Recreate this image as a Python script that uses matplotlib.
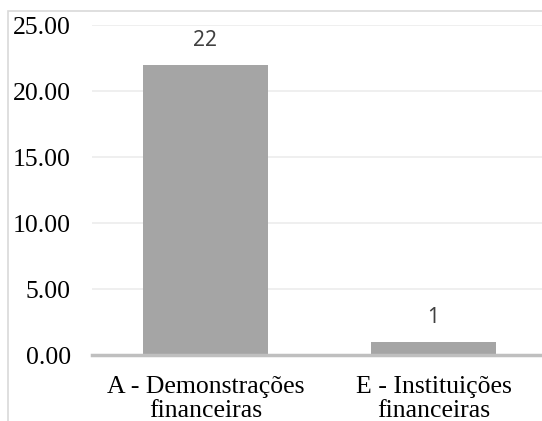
import numpy as np
import matplotlib.pyplot as plt
from matplotlib.patches import Rectangle

categorias = ["A - Demonstrações\nfinanceiras", "E - Instituições\nfinanceiras"]
valores = [22, 1]
yticks = [0, 5, 10, 15, 20, 25]

fig = plt.figure(figsize=(5.42, 4.21), dpi=100)

# moldura cinza clara do gráfico
fig.patches.append(Rectangle((8 / 542, -0.1), 1.0, (421 - 11) / 421 + 0.1,
                             transform=fig.transFigure, fill=False,
                             edgecolor="#d9d9d9", linewidth=1.2, zorder=0))

ax = fig.add_axes([91.5 / 542, (421 - 355) / 421, 456 / 542, 330 / 421])

x = np.arange(len(categorias))
barras = ax.bar(x, valores, width=0.55, color="#a5a5a5", zorder=2)

for xi, v in zip(x, valores):
    ax.annotate(str(v), (xi, v), xytext=(0, 10), textcoords="offset points",
                ha="center", va="bottom", fontsize=15, color="#404040",
                family="Noto Sans")

ax.set_xlim(-0.5, 1.5)
ax.set_ylim(0, 25)
ax.set_yticks(yticks)
ax.set_yticklabels([f"{t:.2f}" for t in yticks], family="Liberation Serif",
                   fontsize=18.5)
ax.set_xticks(x)
ax.set_xticklabels(categorias, family="Liberation Serif", fontsize=18.5,
                   linespacing=1.12)
ax.tick_params(axis="y", length=0, pad=15)
ax.tick_params(axis="x", length=0, pad=15)

ax.grid(axis="y", color="#ececec", linewidth=1.2, zorder=0)
for s in ["top", "right", "left"]:
    ax.spines[s].set_visible(False)
ax.spines["bottom"].set_color("#bfbfbf")
ax.spines["bottom"].set_linewidth(2.5)
ax.spines["bottom"].set_zorder(3)
ax.patch.set_alpha(0)

fig.savefig("out.png", dpi=100)
